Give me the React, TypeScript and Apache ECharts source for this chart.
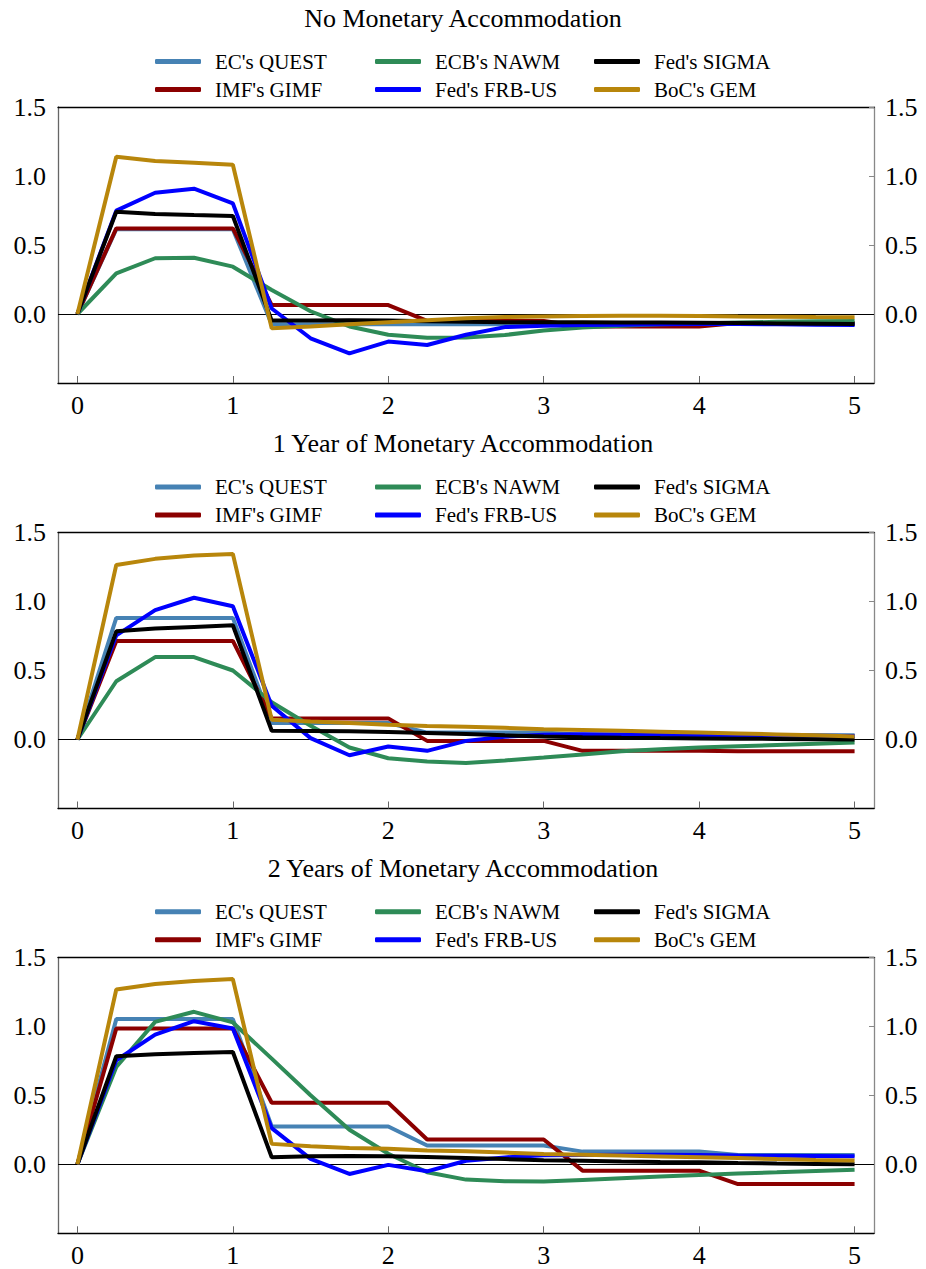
import React, { useEffect, useRef } from "react";
import * as echarts from "echarts";

// ---------- data ----------
const quarters = [0, 0.25, 0.5, 0.75, 1, 1.25, 1.5, 1.75, 2, 2.25, 2.5, 2.75, 3, 3.25, 3.5, 3.75, 4, 4.25, 4.5, 4.75, 5];
const xTickValues = [0, 1, 2, 3, 4, 5];
const yTickValues = [0, 0.5, 1, 1.5];
const panelTitles = [
  "No Monetary Accommodation",
  "1 Year of Monetary Accommodation",
  "2 Years of Monetary Accommodation",
];
const modelNames = ["EC's QUEST", "IMF's GIMF", "ECB's NAWM", "Fed's FRB-US", "Fed's SIGMA", "BoC's GEM"];
const modelColors = ["#4682B4", "#8B0000", "#2E8B57", "#0000FF", "#000000", "#B8860B"];

// Panel 1: No Monetary Accommodation
const p1Quest = [0, 0.615, 0.615, 0.615, 0.615, -0.075, -0.075, -0.075, -0.075, -0.075, -0.075, -0.075, -0.075, -0.07, -0.07, -0.07, -0.07, -0.07, -0.07, -0.07, -0.07];
const p1Gimf = [0, 0.62, 0.62, 0.62, 0.62, 0.065, 0.065, 0.065, 0.065, -0.05, -0.05, -0.05, -0.05, -0.09, -0.09, -0.09, -0.09, -0.065, -0.065, -0.065, -0.065];
const p1Nawm = [0, 0.295, 0.404, 0.408, 0.343, 0.174, 0.02, -0.09, -0.15, -0.172, -0.17, -0.152, -0.12, -0.097, -0.085, -0.075, -0.068, -0.062, -0.057, -0.053, -0.05];
const p1FrbUs = [0, 0.749, 0.879, 0.908, 0.802, 0.04, -0.176, -0.285, -0.2, -0.225, -0.15, -0.095, -0.085, -0.08, -0.078, -0.075, -0.072, -0.072, -0.075, -0.078, -0.08];
const p1Sigma = [0, 0.741, 0.725, 0.717, 0.71, -0.048, -0.047, -0.046, -0.048, -0.052, -0.057, -0.06, -0.06, -0.06, -0.061, -0.062, -0.064, -0.066, -0.068, -0.07, -0.072];
const p1Gem = [0, 1.14, 1.109, 1.096, 1.082, -0.104, -0.09, -0.075, -0.06, -0.045, -0.03, -0.022, -0.018, -0.015, -0.013, -0.012, -0.015, -0.018, -0.02, -0.022, -0.023];

// Panel 2: 1 Year of Monetary Accommodation
const p2Quest = [0, 0.881, 0.881, 0.881, 0.881, 0.12, 0.12, 0.12, 0.12, 0.05, 0.05, 0.05, 0.05, 0.035, 0.035, 0.035, 0.035, 0.03, 0.03, 0.03, 0.03];
const p2Gimf = [0, 0.714, 0.714, 0.714, 0.714, 0.153, 0.153, 0.153, 0.153, -0.01, -0.01, -0.01, -0.01, -0.082, -0.082, -0.082, -0.082, -0.085, -0.085, -0.085, -0.085];
const p2Nawm = [0, 0.422, 0.597, 0.597, 0.5, 0.27, 0.1, -0.058, -0.136, -0.16, -0.17, -0.152, -0.131, -0.109, -0.085, -0.07, -0.058, -0.049, -0.04, -0.031, -0.022];
const p2FrbUs = [0, 0.755, 0.937, 1.027, 0.966, 0.245, 0.01, -0.114, -0.051, -0.082, -0.01, 0.02, 0.035, 0.038, 0.037, 0.035, 0.033, 0.031, 0.029, 0.027, 0.025];
const p2Sigma = [0, 0.784, 0.804, 0.816, 0.828, 0.063, 0.062, 0.06, 0.055, 0.047, 0.039, 0.03, 0.022, 0.017, 0.013, 0.01, 0.008, 0.006, 0.004, 0.002, 0.0];
const p2Gem = [0, 1.265, 1.309, 1.333, 1.345, 0.143, 0.131, 0.12, 0.107, 0.098, 0.093, 0.085, 0.075, 0.069, 0.063, 0.057, 0.051, 0.044, 0.037, 0.03, 0.022];

// Panel 3: 2 Years of Monetary Accommodation
const p3Quest = [0, 1.052, 1.052, 1.052, 1.052, 0.274, 0.274, 0.274, 0.274, 0.136, 0.136, 0.136, 0.136, 0.092, 0.092, 0.092, 0.092, 0.068, 0.068, 0.068, 0.068];
const p3Gimf = [0, 0.984, 0.984, 0.984, 0.984, 0.446, 0.446, 0.446, 0.446, 0.18, 0.18, 0.18, 0.18, -0.046, -0.046, -0.046, -0.046, -0.143, -0.143, -0.143, -0.143];
const p3Nawm = [0, 0.705, 1.032, 1.105, 1.028, 0.766, 0.5, 0.25, 0.076, -0.058, -0.111, -0.123, -0.125, -0.113, -0.101, -0.089, -0.077, -0.067, -0.058, -0.048, -0.039];
const p3FrbUs = [0, 0.754, 0.94, 1.037, 0.984, 0.262, 0.039, -0.07, -0.004, -0.051, 0.026, 0.05, 0.066, 0.068, 0.07, 0.07, 0.068, 0.064, 0.062, 0.06, 0.058];
const p3Sigma = [0, 0.783, 0.797, 0.807, 0.814, 0.051, 0.058, 0.06, 0.058, 0.052, 0.045, 0.038, 0.03, 0.025, 0.02, 0.017, 0.015, 0.01, 0.006, 0.003, 0.0];
const p3Gem = [0, 1.267, 1.306, 1.328, 1.342, 0.148, 0.131, 0.119, 0.112, 0.1, 0.095, 0.085, 0.075, 0.069, 0.063, 0.057, 0.051, 0.045, 0.038, 0.032, 0.027];

const panelData = [
  [p1Quest, p1Gimf, p1Nawm, p1FrbUs, p1Sigma, p1Gem],
  [p2Quest, p2Gimf, p2Nawm, p2FrbUs, p2Sigma, p2Gem],
  [p3Quest, p3Gimf, p3Nawm, p3FrbUs, p3Sigma, p3Gem],
];

// ---------- layout ----------
const FONT = "'Liberation Serif', 'Times New Roman', 'DejaVu Serif', serif";
const panelOffsets = [0, 425.5, 850.3];
const gridTop = 107;
const gridHeight = 276;
const gridLeft = 58;
const gridWidth = 816;
const legendCols = [150, 370, 589];
const legendRows = [44.5, 72.5];

function buildOption() {
  const grid: any[] = [];
  const xAxis: any[] = [];
  const yAxis: any[] = [];
  const series: any[] = [];
  const legend: any[] = [];
  const title: any[] = [];

  panelOffsets.forEach((off, p) => {
    grid.push({ left: gridLeft, top: gridTop + off, width: gridWidth, height: gridHeight, containLabel: false });
    title.push({
      text: panelTitles[p],
      left: "center",
      top: 0 + off,
      textStyle: { fontFamily: FONT, fontSize: 26, fontWeight: "normal", color: "#000" },
    });
    // bottom x axis
    xAxis.push({
      type: "value",
      gridIndex: p,
      position: "bottom",
      min: -0.125,
      max: 5.125,
      axisLine: { show: true, onZero: false, lineStyle: { color: "#000", width: 1.3 } },
      axisTick: { show: true, inside: true, length: 7, customValues: xTickValues, lineStyle: { color: "#666", width: 1 } },
      axisLabel: {
        show: true,
        customValues: xTickValues,
        margin: 9,
        fontFamily: FONT,
        fontSize: 26,
        color: "#000",
        formatter: (v: number) => String(Math.round(v)),
      },
      splitLine: { show: false },
    });
    // top border axis
    xAxis.push({
      type: "value",
      gridIndex: p,
      position: "top",
      min: -0.125,
      max: 5.125,
      axisLine: { show: true, onZero: false, lineStyle: { color: "#000", width: 1.3 } },
      axisTick: { show: false },
      axisLabel: { show: false },
      splitLine: { show: false },
    });
    // left y axis
    yAxis.push({
      type: "value",
      gridIndex: p,
      position: "left",
      min: -0.5,
      max: 1.5,
      interval: 0.5,
      axisLine: { show: true, onZero: false, lineStyle: { color: "#666", width: 1.3 } },
      axisTick: { show: false },
      axisLabel: {
        show: true,
        customValues: yTickValues,
        margin: 12,
        fontFamily: FONT,
        fontSize: 26,
        color: "#000",
        formatter: (v: number) => v.toFixed(1),
      },
      splitLine: { show: false },
    });
    // right y axis
    yAxis.push({
      type: "value",
      gridIndex: p,
      position: "right",
      min: -0.5,
      max: 1.5,
      interval: 0.5,
      axisLine: { show: true, onZero: false, lineStyle: { color: "#888", width: 1.3 } },
      axisTick: { show: true, inside: true, length: 5, customValues: yTickValues, lineStyle: { color: "#888", width: 1 } },
      axisLabel: {
        show: true,
        customValues: yTickValues,
        margin: 11,
        fontFamily: FONT,
        fontSize: 26,
        color: "#000",
        formatter: (v: number) => v.toFixed(1),
      },
      splitLine: { show: false },
    });

    modelNames.forEach((name, i) => {
      const vals = panelData[p][i];
      const s: any = {
        type: "line",
        name,
        xAxisIndex: p * 2,
        yAxisIndex: p * 2,
        data: quarters.map((x, k) => [x, vals[k]]),
        color: modelColors[i],
        symbol: "none",
        showSymbol: false,
        lineStyle: { color: modelColors[i], width: 4 },
        animation: false,
        z: 3,
      };
      if (i === 0) {
        s.markLine = {
          silent: true,
          symbol: ["none", "none"],
          label: { show: false },
          lineStyle: { color: "#000", width: 1, type: "solid" },
          data: [{ yAxis: 0 }],
          z: 1,
        };
      }
      series.push(s);

      const col = Math.floor(i / 2);
      const row = i % 2;
      legend.push({
        left: legendCols[col],
        top: legendRows[row] + off,
        data: [name],
        icon: "roundRect",
        itemWidth: 46,
        itemHeight: 5,
        itemGap: 0,
        selectedMode: false,
        textStyle: {
          fontFamily: FONT,
          fontSize: 21,
          color: "#000",
          lineHeight: 24,
          padding: [0, 0, 0, 9],
        },
      });
    });
  });

  return {
    animation: false,
    backgroundColor: "#fff",
    title,
    legend,
    grid,
    xAxis,
    yAxis,
    series,
  };
}

export default function App() {
  const ref = useRef<HTMLDivElement>(null);
  useEffect(() => {
    if (!ref.current) return;
    const chart = echarts.init(ref.current, null, { renderer: "svg" });
    chart.setOption(buildOption() as any);
    return () => chart.dispose();
  }, []);
  return (
    <div
      ref={ref}
      style={{ position: "absolute", left: 0, top: 0, width: 926, height: 1269, background: "#fff" }}
    />
  );
}
